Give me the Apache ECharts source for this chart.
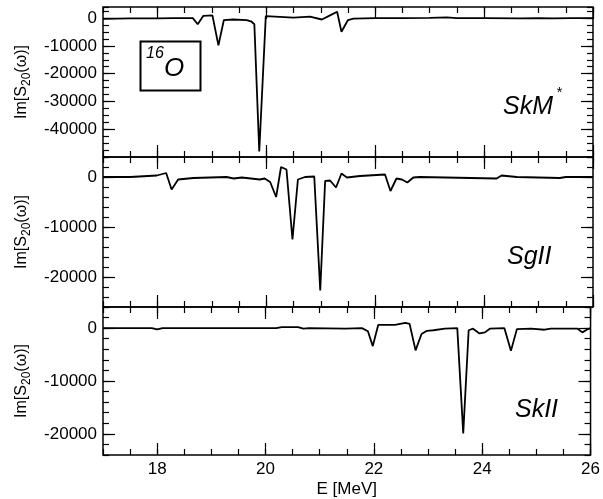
<!DOCTYPE html>
<html><head><meta charset="utf-8">
<script src="https://cdn.jsdelivr.net/npm/echarts@6/dist/echarts.min.js"></script>
<style>html,body{margin:0;padding:0;background:#fff}#c{width:603px;height:499px}</style>
</head><body><div id="c"></div>
<script>
// ---- data (E in MeV, Im[S20(w)]) ----
const skmE = [17.0,17.5,18.0,18.3,18.65,18.74,18.84,19.01,19.12,19.22,19.39,19.64,19.73,19.78,19.87,19.99,20.5,20.8,21.02,21.17,21.30,21.38,21.5,21.6,22.0,22.5,23.0,23.31,23.5,24.0,24.66,25.0,25.27,25.6,26.0];
const skmV = [-300,-100,-100,0,0,-2200,800,1000,-9800,-700,-500,-700,-1300,-2200,-48000,700,200,500,-500,1000,2300,-4900,-700,-200,0,0,100,300,0,0,-100,0,-100,0,0];

const sg2E = [17.0,17.5,17.99,18.16,18.26,18.38,18.66,19.27,19.4,19.55,19.88,19.97,20.07,20.18,20.27,20.37,20.48,20.58,20.71,20.88,20.99,21.08,21.17,21.28,21.38,21.48,21.72,22.18,22.28,22.39,22.49,22.59,22.70,22.82,24.23,24.32,24.6,25.39,25.5,26.0];
const sg2V = [0,0,300,800,-2500,-500,-200,0,-300,-100,-500,-300,-1000,-4000,2000,1500,-12500,-500,0,100,-22700,-800,-700,-2100,700,-100,200,500,-2800,-300,-500,-1100,-100,0,-300,300,0,-200,0,0];

const sk2E = [17.0,17.9,18.0,18.1,20.2,20.3,20.6,20.7,20.8,21.48,21.78,21.89,21.98,22.08,22.39,22.58,22.66,22.77,22.88,22.98,23.1,23.31,23.54,23.65,23.75,23.83,23.95,24.05,24.14,24.41,24.53,24.64,24.9,25.15,25.27,25.76,25.85,25.93,26.0];
const sk2V = [0,0,-250,0,0,200,200,-100,0,-100,0,-600,-3400,600,600,1000,800,-4200,-1100,-500,-400,-100,0,-19900,-400,-100,-1000,-800,-100,0,-4300,-200,-100,-300,-100,-100,-800,-300,0];

const xMajorTicks = [18,20,22,24,26];
const yTicksSkM = [-40000,-30000,-20000,-10000,0];
const yTicksSgII = [-20000,-10000,0];
const yTicksSkII = [-20000,-10000,0];

// ---- layout ----
const FONT = 'Liberation Sans';
const panels = [
  {top:7,   ymin:-50000, ymax:4000, ticks:yTicksSkM,  minor:2500, E:skmE, V:skmV},
  {top:157, ymin:-26000, ymax:4000, ticks:yTicksSgII, minor:2000, E:sg2E, V:sg2V},
  {top:307, ymin:-24000, ymax:4000, ticks:yTicksSkII, minor:2000, E:sk2E, V:sk2V}
];
const tickStyle = {color:'#000', width:1.2};
const grid = [], xAxis = [], yAxis = [], series = [];
panels.forEach((p, i) => {
  grid.push({left:103, right:10, top:p.top, height:150, show:true, borderColor:'#000', borderWidth:1.5, backgroundColor:'transparent'});
  const xi = xAxis.length;
  ['bottom','top'].forEach(pos => {
    const lab = (i === 2 && pos === 'bottom');
    xAxis.push({type:'value', gridIndex:i, min:17, max:26, position:pos,
      axisLine:{show:false, onZero:false}, splitLine:{show:false},
      axisTick:{show:true, inside:true, length:12, customValues:xMajorTicks, lineStyle:tickStyle},
      axisLabel:{show:lab, customValues:xMajorTicks, color:'#000', fontFamily:FONT, fontSize:17, margin:6},
      name: lab ? 'E [MeV]' : '', nameLocation:'middle', nameGap:26,
      nameTextStyle:{color:'#000', fontFamily:FONT, fontSize:17}});
    xAxis.push({type:'value', gridIndex:i, min:17, max:26, interval:0.5, position:pos,
      axisLine:{show:false, onZero:false}, splitLine:{show:false},
      axisTick:{show:true, inside:true, length:6, lineStyle:tickStyle},
      axisLabel:{show:false}});
  });
  const yi = yAxis.length;
  ['left','right'].forEach(pos => {
    const lab = pos === 'left';
    yAxis.push({type:'value', gridIndex:i, min:p.ymin, max:p.ymax, position:pos,
      axisLine:{show:false, onZero:false}, splitLine:{show:false},
      axisTick:{show:true, inside:true, length:12, customValues:p.ticks, lineStyle:tickStyle},
      axisLabel:{show:lab, customValues:p.ticks, color:'#000', fontFamily:FONT, fontSize:17, margin:6,
                 formatter: v => String(v)},
      name: lab ? '{a|Im[S}{s|20}{a|(ω)]}' : '', nameLocation:'middle', nameGap:68, nameRotate:90,
      nameTextStyle:{color:'#000', fontFamily:FONT, fontSize:16,
        rich:{a:{fontFamily:FONT, fontSize:16, color:'#000', verticalAlign:'bottom', padding:[0,0,4,0]},
              s:{fontFamily:FONT, fontSize:12, color:'#000', verticalAlign:'bottom', padding:[0,0,0,0]}}}});
    yAxis.push({type:'value', gridIndex:i, min:p.ymin, max:p.ymax, interval:p.minor, position:pos,
      axisLine:{show:false, onZero:false}, splitLine:{show:false},
      axisTick:{show:true, inside:true, length:6, lineStyle:tickStyle},
      axisLabel:{show:false}});
  });
  series.push({type:'line', xAxisIndex:xi, yAxisIndex:yi, data:p.E.map((e,k)=>[e,p.V[k]]),
    symbol:'none', showSymbol:false, lineStyle:{color:'#000', width:1.8}, animation:false, z:5});
});

const itFont = (sz) => 'italic ' + sz + 'px "' + FONT + '"';
const graphic = [
  {type:'rect', left:138, top:39, shape:{width:60, height:49}, style:{fill:'none', stroke:'#000', lineWidth:2}},
  {type:'text', x:146, y:54, style:{text:'16', font:itFont(16), fill:'#000', verticalAlign:'middle'}},
  {type:'text', x:164, y:69, style:{text:'O', font:itFont(26), fill:'#000', verticalAlign:'middle'}},
  {type:'text', x:503, y:107, style:{text:'SkM', font:itFont(25), fill:'#000', verticalAlign:'middle'}},
  {type:'text', x:556, y:93, style:{text:'*', font:itFont(15), fill:'#000', verticalAlign:'middle'}},
  {type:'text', x:507, y:257, style:{text:'SgII', font:itFont(25), fill:'#000', verticalAlign:'middle'}},
  {type:'text', x:515, y:410, style:{text:'SkII', font:itFont(25), fill:'#000', verticalAlign:'middle'}}
];

const chart = echarts.init(document.getElementById('c'), null, {renderer:'canvas'});
chart.setOption({animation:false, backgroundColor:'#fff', grid, xAxis, yAxis, series, graphic});
</script></body></html>
